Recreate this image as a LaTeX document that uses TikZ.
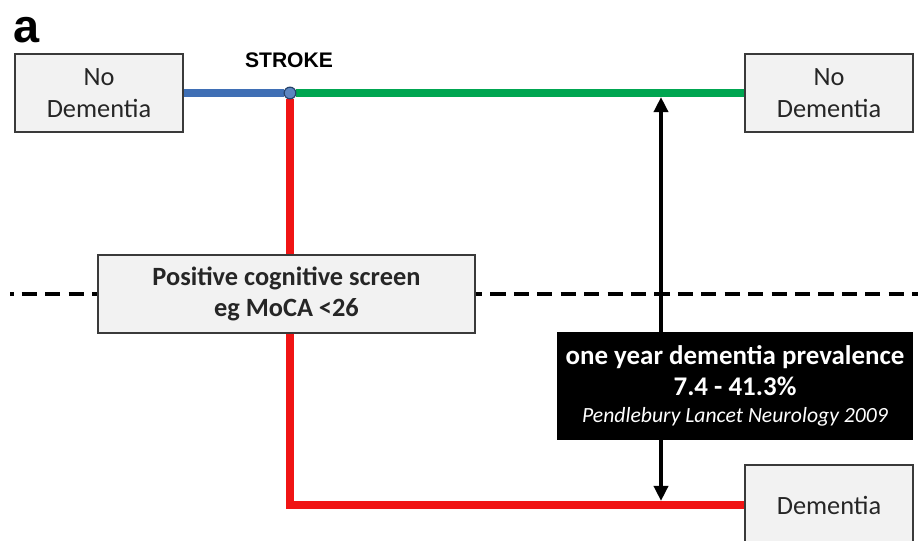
\documentclass[tikz,border=0pt]{standalone}
\usepackage{fontspec}
\setmainfont{Carlito}
\newfontfamily\arialfont{Liberation Sans}
\usetikzlibrary{backgrounds,arrows.meta}
\definecolor{strokeblue}{HTML}{3F6FB5}
\definecolor{okgreen}{HTML}{00A651}
\definecolor{redline}{HTML}{F01414}
\definecolor{boxgray}{HTML}{F2F2F2}
\definecolor{edgegray}{HTML}{3A3A3A}

\begin{document}
\begin{tikzpicture}[x=0.03cm, y=-0.03cm,
		state box/.style={draw=edgegray, fill=boxgray, line width=2.2pt, text=black!85,
			minimum width=5.04cm, minimum height=2.34cm, align=center,
			font=\fontsize{22.5}{27}\selectfont},
		path line/.style={line width=6.5pt},
		screen line/.style={line width=3.4pt, dash pattern=on 13pt off 7pt, dash phase=10pt}]
	\useasboundingbox (0,0) rectangle (918,541);

	\node[font=\arialfont\bfseries\fontsize{40}{40}\selectfont, anchor=base west, inner sep=0] (panel) at (13,43) {a};
	\node[state box] (nd1) at (99,93) {No\\Dementia};
	\node[state box] (nd2) at (829,93) {No\\Dementia};
	\node[state box, minimum height=2.4cm] (dem) at (829,505) {Dementia};
	\node[font=\arialfont\bfseries\fontsize{18}{18}\selectfont] (strokelbl) at (289,60) {STROKE};
	\node[circle, draw=strokeblue!60!black, fill=strokeblue!85, line width=1pt,
		inner sep=0pt, minimum size=10pt] (stroke) at (290,93) {};
	\node[state box, minimum width=11.31cm, font=\bfseries\fontsize{22.5}{26}\selectfont]
		(screen) at (286.5,294) {Positive cognitive screen\\eg MoCA <26};
	\node[fill=black, text=white, minimum width=10.68cm, minimum height=3.24cm, align=center,
		font=\bfseries\fontsize{23}{26}\selectfont]
		(prev) at (735,386) {one year dementia prevalence\\7.4 - 41.3\%\\[-3pt]
		{\mdseries\itshape\fontsize{18.5}{20}\selectfont Pendlebury Lancet Neurology 2009}};

	\coordinate (dash left) at (10,294);
	\coordinate (dash right) at (918,294);
	\coordinate (prev top) at (661,97);
	\coordinate (prev bottom) at (661,501);

	\begin{scope}[on background layer]
		\draw[screen line] (dash left) -- (dash right);
		\draw[path line, strokeblue] (nd1) -- (stroke);
		\draw[path line, okgreen] (stroke) -- (nd2);
		\draw[path line, redline] (stroke) |- (dem);
		\draw[line width=3.4pt, {Triangle[length=13pt,width=12pt]}-{Triangle[length=13pt,width=12pt]}]
			(prev top) -- (prev bottom);
	\end{scope}
\end{tikzpicture}
\end{document}
